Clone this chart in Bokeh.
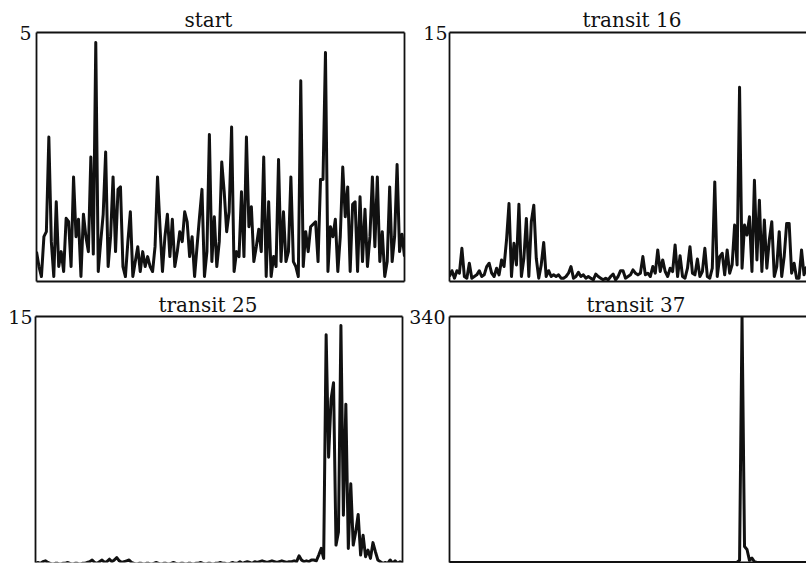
from bokeh.plotting import figure
from bokeh.layouts import column, row
from bokeh.models import LinearAxis, FixedTicker, Range1d
from bokeh.embed import file_html
from bokeh.resources import INLINE

# ---- data (counts per channel) ----
start_counts = [
    0.6, 0.3, 0.1, 0.9, 1.0, 2.9, 0.8, 0.1, 1.6, 0.3,
    0.6, 0.2, 1.27, 1.2, 0.3, 2.1, 0.9, 1.25, 0.1, 1.35,
    0.9, 0.6, 2.5, 0.55, 4.8, 0.2, 0.8, 1.35, 2.6, 0.3,
    0.9, 2.1, 0.6, 1.85, 1.9, 0.3, 0.1, 0.8, 1.4, 0.1,
    0.4, 0.7, 0.2, 0.6, 0.3, 0.5, 0.3, 0.2, 0.7, 2.1,
    1.1, 0.2, 0.9, 1.35, 0.5, 1.25, 0.3, 0.6, 1.0, 0.8,
    1.4, 1.2, 0.5, 0.9, 0.1, 0.7, 1.3, 1.85, 0.1, 0.6,
    2.95, 0.4, 1.3, 0.3, 0.8, 2.4, 1.8, 1.0, 1.4, 3.1,
    0.2, 0.6, 0.5, 1.8, 0.5, 2.9, 1.1, 1.5, 0.4, 0.7,
    1.05, 0.6, 2.5, 0.1, 1.6, 0.1, 0.5, 0.3, 2.45, 0.4,
    1.4, 0.4, 0.6, 2.1, 0.4, 0.3, 0.1, 4.03, 0.3, 1.0,
    0.6, 1.1, 1.15, 1.2, 0.4, 2.05, 2.05, 4.6, 0.2, 1.1,
    0.9, 1.25, 0.2, 0.9, 2.3, 1.3, 1.9, 0.2, 1.55, 1.6,
    0.2, 1.7, 0.4, 1.45, 0.3, 0.9, 2.1, 0.7, 2.1, 0.4,
    1.0, 0.1, 0.4, 1.9, 0.4, 0.9, 2.35, 0.6, 0.95, 0.5,
]

transit16_counts = [
    0.3, 0.65, 0.2, 0.65, 0.5, 2.0, 0.3, 0.2, 1.1, 0.2,
    0.3, 0.4, 0.65, 0.3, 0.4, 0.9, 1.1, 0.5, 0.3, 0.8,
    0.4, 1.3, 0.9, 2.5, 4.7, 0.3, 2.3, 1.0, 4.65, 0.3,
    1.4, 3.8, 0.3, 3.6, 4.6, 1.4, 0.2, 1.0, 2.35, 0.3,
    0.65, 0.3, 0.4, 0.3, 0.4, 0.2, 0.2, 0.3, 0.5, 0.9,
    0.2, 0.3, 0.55, 0.3, 0.4, 0.2, 0.3, 0.2, 0.1, 0.45,
    0.3, 0.2, 0.1, 0.2, 0.1, 0.3, 0.45, 0.1, 0.3, 0.65,
    0.65, 0.2, 0.3, 0.4, 0.7, 0.5, 0.4, 0.5, 1.5, 0.4,
    0.5, 0.3, 0.9, 0.5, 1.9, 0.6, 1.3, 0.6, 0.3, 0.8,
    0.6, 2.2, 0.3, 1.55, 0.3, 0.2, 0.8, 2.1, 0.5, 0.4,
    1.35, 0.3, 0.6, 2.0, 0.3, 0.2, 0.8, 6.0, 0.3, 1.5,
    1.7, 0.4, 1.9, 0.5, 1.0, 3.4, 1.0, 11.7, 0.8, 3.4,
    2.8, 3.9, 0.6, 6.1, 1.3, 4.9, 0.6, 3.7, 0.8, 2.5,
    3.6, 0.3, 0.9, 3.0, 0.3, 1.5, 3.5, 3.5, 0.5, 1.1,
    0.2, 0.2, 1.9, 0.4, 0.9,
]

transit25_counts = [
    0.1, 0.15, 0.1, 0.2, 0.25, 0.15, 0.1, 0.05, 0.1, 0.1,
    0.05, 0.1, 0.1, 0.15, 0.1, 0.05, 0.1, 0.1, 0.05, 0.1,
    0.1, 0.15, 0.2, 0.3, 0.15, 0.1, 0.2, 0.3, 0.15, 0.2,
    0.35, 0.2, 0.3, 0.45, 0.25, 0.15, 0.2, 0.25, 0.3, 0.15,
    0.1, 0.05, 0.1, 0.1, 0.05, 0.1, 0.1, 0.05, 0.1, 0.15,
    0.1, 0.05, 0.1, 0.1, 0.05, 0.1, 0.15, 0.1, 0.05, 0.1,
    0.1, 0.05, 0.1, 0.1, 0.05, 0.1, 0.1, 0.15, 0.1, 0.05,
    0.1, 0.1, 0.05, 0.1, 0.1, 0.15, 0.1, 0.1, 0.05, 0.1,
    0.15, 0.1, 0.1, 0.2, 0.1, 0.15, 0.2, 0.15, 0.1, 0.2,
    0.15, 0.2, 0.25, 0.2, 0.15, 0.2, 0.25, 0.2, 0.15, 0.2,
    0.25, 0.2, 0.15, 0.2, 0.2, 0.25, 0.2,
    0.55, 0.3, 0.2, 0.25, 0.2, 0.3, 0.3, 0.25, 0.6,
    1.0, 0.4, 13.9, 6.5, 10.0, 11.0, 1.2, 2.0, 14.45, 3.0,
    9.7, 1.0, 4.9, 1.2, 2.0, 3.05, 0.6, 1.8, 0.5, 0.9,
    0.4, 1.35, 0.8, 0.3, 0.2, 0.1, 0.15, 0.1, 0.3, 0.1,
    0.25, 0.1, 0.2, 0.1,
]

transit37_counts = [0] * 116 + [0.5, 3, 340, 22, 18, 3, 6, 1] + [0] * 21

panel_titles = ["start", "transit 16", "transit 25", "transit 37"]
panel_max = [5, 15, 15, 340]

FONT = "DejaVu Serif"
INK = "#111111"


def border_axis(p, side):
    ax = LinearAxis(ticker=FixedTicker(ticks=[]), major_tick_out=0, major_tick_in=0,
                    minor_tick_out=0, minor_tick_in=0, major_label_standoff=0,
                    major_label_text_font_size="0px",
                    axis_line_width=1.8, axis_line_color=INK)
    p.add_layout(ax, side)


def panel(values, title, ymax, width, height, mb, title_offset, title_standoff,
          label_standoff, sides, ystart=0):
    p = figure(width=width, height=height, output_backend="svg", toolbar_location=None,
               x_axis_location=None, y_axis_location=None,
               x_range=Range1d(0, len(values) - 1), y_range=Range1d(ystart, ymax),
               min_border_left=mb[0], min_border_right=mb[1],
               min_border_top=mb[2], min_border_bottom=mb[3])
    p.outline_line_color = None
    p.background_fill_color = "white"
    p.border_fill_color = "white"
    p.xgrid.grid_line_color = None
    p.ygrid.grid_line_color = None
    p.title.text = title
    p.title.align = "left"
    p.title.offset = title_offset
    p.title.standoff = title_standoff
    p.title.text_font = FONT
    p.title.text_font_size = "20px"
    p.title.text_font_style = "normal"
    p.title.text_color = INK

    yax = LinearAxis(ticker=FixedTicker(ticks=[ymax]), major_tick_out=0, major_tick_in=0,
                     minor_tick_out=0, minor_tick_in=0,
                     major_label_standoff=label_standoff,
                     major_label_text_font=FONT, major_label_text_font_size="19px",
                     major_label_text_color=INK,
                     axis_line_width=1.8, axis_line_color=INK)
    p.add_layout(yax, "left")
    for s in sides:
        border_axis(p, s)

    p.line(x=list(range(len(values))), y=values, line_color=INK, line_width=3,
           line_join="round")
    return p


p1 = panel(start_counts, panel_titles[0], panel_max[0], 406, 290, (36, 2, 32, 9),
           148, 2, 5, ["above", "below", "right"])
p2 = panel(transit16_counts, panel_titles[1], panel_max[1], 400, 290, (43, 0, 32, 9),
           133, 2, 2, ["above", "below"])
p3 = panel(transit25_counts, panel_titles[2], panel_max[2], 406, 273, (35, 4, 26, 1),
           123, 0, 3, ["above", "right"], ystart=0.15)
p4 = panel(transit37_counts, panel_titles[3], panel_max[3], 400, 273, (43, 0, 26, 1),
           137, 0, 4, ["above", "below"])

layout = column(row(p1, p2), row(p3, p4))

with open("out.html", "w") as f:
    f.write(file_html(layout, INLINE))
